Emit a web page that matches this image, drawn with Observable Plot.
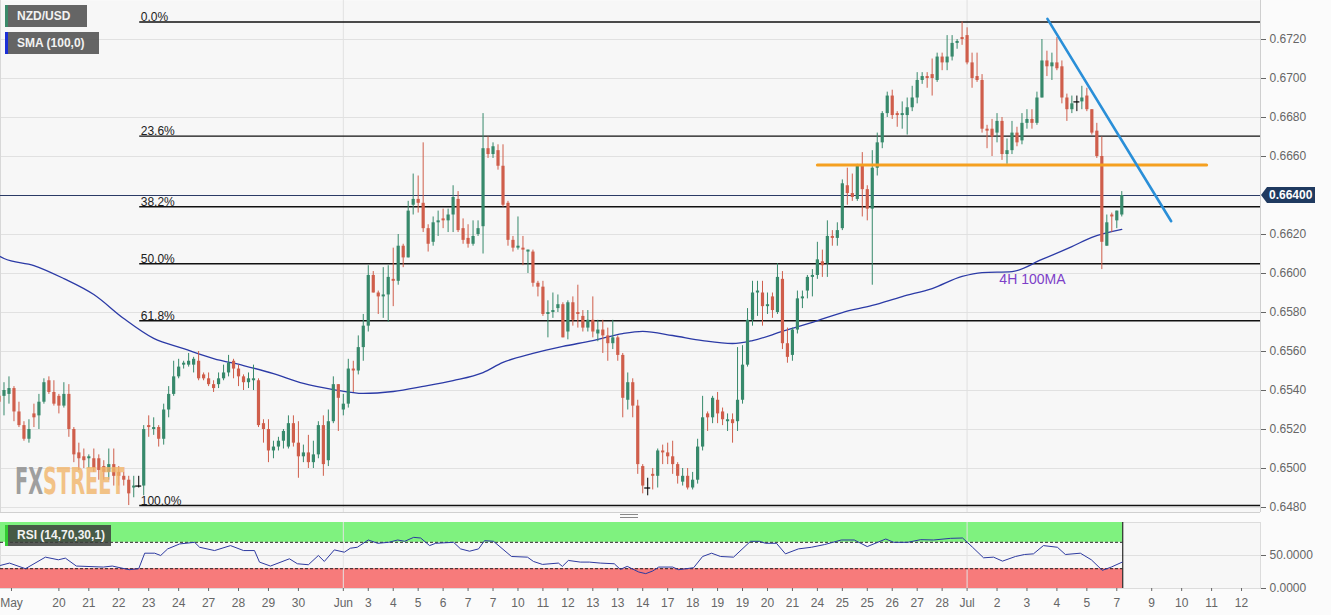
<!DOCTYPE html>
<html>
<head>
<meta charset="utf-8">
<script src="https://cdn.jsdelivr.net/npm/d3@7"></script>
<script src="https://cdn.jsdelivr.net/npm/@observablehq/plot@0.6"></script>
<style>
  body { margin: 0; background: #ffffff; font-family: "Liberation Sans", Arial, sans-serif; }
  #wrap { position: relative; width: 1331px; height: 615px; overflow: hidden; background: #fbfbfb; }
  #main, #rsi { position: absolute; left: 0; }
  #main { top: 0; }
  #rsi { top: 513px; }
  .tag { position: absolute; left: 5px; height: 22px; line-height: 22px; padding: 0 9px 0 9px;
         color: #f2f2f2; font-weight: bold; font-size: 12px; background: rgba(88,88,88,0.92);
         border-left: 3px solid; white-space: nowrap; }
  #fxs { position: absolute; left: 15px; top: 460px; font-family: "Liberation Sans Narrow", "DejaVu Sans Condensed", sans-serif;
         font-weight: bold; font-size: 37px; opacity: 0.8; pointer-events: none; white-space: nowrap;
         transform: scaleX(0.58); transform-origin: 0 0; }
  #handle { position: absolute; left: 620px; top: 514px; width: 18px; height: 2px; border-top: 1px solid #888; border-bottom: 1px solid #888; }
  #sep { position: absolute; left: 0; top: 512px; width: 1260px; height: 0; border-top: 1px solid #d0d0d0; }
</style>
</head>
<body>
<div id="wrap">
  <div id="main"></div>
  <div id="rsi"></div>
  <div id="sep"></div>
  <div id="handle"></div>
  <div class="tag" style="top:5px;border-color:#3b8a6a;width:61px;">NZD/USD</div>
  <div class="tag" style="top:32px;border-color:#1c2fd6;width:73px;">SMA (100,0)</div>
  <div class="tag" style="top:525px;border-color:#33cc33;background:rgba(60,64,60,0.85);height:21px;line-height:21px;padding:0 6px 0 9px;">RSI (14,70,30,1)</div>
  <div id="fxs"><span style="color:#8a8a8a">FX</span><span style="color:#f2b56b">STREET</span></div>
</div>
<script>
// ---------------- DATA ----------------
// 4H candles, bar index starts at -1 (first candle half hidden at the left edge)
const startIdx = -1;
const opens = [
  0.6537,0.6537,0.6538,0.6541,0.6529,0.6522,0.6515,0.6528,0.6527,0.6534,
  0.6545,0.6539,0.6537,0.6532,0.6538,0.6520,0.6508,0.6506,0.6505,0.6505,
  0.6505,0.6501,0.6498,0.6502,0.6498,0.6496,0.6494,0.6490,0.6491,0.6491,
  0.6522,0.6520,0.6521,0.6515,0.6530,0.6538,0.6547,0.6553,0.6553,0.6553,
  0.6555,0.6548,0.6546,0.6543,0.6543,0.6546,0.6549,0.6555,0.6551,0.6547,
  0.6544,0.6545,0.6545,0.6523,0.6520,0.6509,0.6511,0.6514,0.6511,0.6523,
  0.6513,0.6506,0.6508,0.6503,0.6507,0.6522,0.6504,0.6524,0.6543,0.6530,
  0.6533,0.6551,0.6550,0.6562,0.6573,0.6599,0.6590,0.6588,0.6589,0.6597,
  0.6596,0.6614,0.6608,0.6635,0.6638,0.6636,0.6623,0.6616,0.6626,0.6628,
  0.6627,0.6630,0.6638,0.6623,0.6618,0.6615,0.6620,0.6624,0.6664,0.6661,
  0.6663,0.6655,0.6636,0.6617,0.6613,0.6613,0.6611,0.6611,0.6595,0.6593,
  0.6579,0.6580,0.6582,0.6584,0.6570,0.6585,0.6580,0.6578,0.6572,0.6576,
  0.6569,0.6571,0.6568,0.6564,0.6567,0.6558,0.6535,0.6544,0.6532,0.6501,
  0.6490,0.6497,0.6496,0.6509,0.6508,0.6506,0.6502,0.6493,0.6496,0.6490,
  0.6494,0.6511,0.6528,0.6526,0.6535,0.6529,0.6524,0.6525,0.6524,0.6535,
  0.6553,0.6576,0.6590,0.6590,0.6583,0.6588,0.6580,0.6597,0.6564,0.6558,
  0.6571,0.6587,0.6591,0.6598,0.6599,0.6606,0.6605,0.6619,0.6618,0.6623,
  0.6645,0.6641,0.6638,0.6655,0.6643,0.6633,0.6654,0.6667,0.6682,0.6691,
  0.6682,0.6681,0.6681,0.6685,0.6690,0.6699,0.6701,0.6702,0.6699,0.6711,
  0.6708,0.6711,0.6718,0.6721,0.6722,0.6708,0.6701,0.6699,0.6674,0.6674,
  0.6672,0.6678,0.6661,0.6663,0.6672,0.6668,0.6677,0.6679,0.6677,0.6690,
  0.6709,0.6706,0.6708,0.6706,0.6690,0.6684,0.6688,0.6688,0.6691,0.6684,
  0.6673,0.6660,0.6614,0.6630,0.6627,0.6630
];
const highs = [
  0.6539,0.6544,0.6547,0.6542,0.6534,0.6524,0.6525,0.6533,0.6538,0.6546,
  0.6547,0.6545,0.6538,0.6544,0.6543,0.6521,0.6513,0.6510,0.6507,0.6510,
  0.6507,0.6504,0.6510,0.6510,0.6501,0.6498,0.6496,0.6496,0.6496,0.6522,
  0.6527,0.6526,0.6522,0.6533,0.6542,0.6555,0.6556,0.6555,0.6559,0.6557,
  0.6560,0.6549,0.6549,0.6545,0.6549,0.6553,0.6558,0.6556,0.6553,0.6548,
  0.6549,0.6553,0.6546,0.6525,0.6525,0.6514,0.6516,0.6520,0.6527,0.6527,
  0.6524,0.6512,0.6517,0.6514,0.6524,0.6527,0.6530,0.6547,0.6543,0.6538,
  0.6556,0.6555,0.6568,0.6579,0.6604,0.6601,0.6591,0.6603,0.6604,0.6613,
  0.6620,0.6615,0.6637,0.6651,0.6650,0.6667,0.6625,0.6629,0.6632,0.6633,
  0.6633,0.6645,0.6642,0.6628,0.6625,0.6627,0.6627,0.6682,0.6670,0.6667,
  0.6666,0.6666,0.6637,0.6619,0.6629,0.6619,0.6612,0.6612,0.6596,0.6596,
  0.6586,0.6590,0.6589,0.6585,0.6586,0.6588,0.6594,0.6581,0.6581,0.6588,
  0.6576,0.6576,0.6572,0.6576,0.6568,0.6559,0.6549,0.6546,0.6535,0.6502,
  0.6495,0.6500,0.6510,0.6512,0.6513,0.6514,0.6503,0.6500,0.6500,0.6498,
  0.6515,0.6537,0.6529,0.6537,0.6539,0.6531,0.6528,0.6528,0.6562,0.6563,
  0.6582,0.6596,0.6596,0.6596,0.6590,0.6590,0.6605,0.6601,0.6572,0.6572,
  0.6591,0.6591,0.6599,0.6602,0.6616,0.6612,0.6627,0.6622,0.6626,0.6648,
  0.6654,0.6651,0.6656,0.6662,0.6645,0.6663,0.6672,0.6683,0.6693,0.6694,
  0.6683,0.6688,0.6690,0.6696,0.6703,0.6703,0.6703,0.6710,0.6713,0.6713,
  0.6722,0.6722,0.6720,0.6729,0.6726,0.6713,0.6713,0.6702,0.6676,0.6679,
  0.6682,0.6680,0.6669,0.6678,0.6675,0.6682,0.6684,0.6684,0.6693,0.6720,
  0.6714,0.6713,0.6721,0.6709,0.6692,0.6691,0.6691,0.6696,0.6695,0.6684,
  0.6677,0.6670,0.6630,0.6631,0.6632,0.6642
];
const lows = [
  0.6532,0.6527,0.6533,0.6524,0.6521,0.6514,0.6513,0.6521,0.6520,0.6533,
  0.6538,0.6532,0.6528,0.6531,0.6516,0.6503,0.6499,0.6500,0.6500,0.6498,
  0.6494,0.6494,0.6494,0.6491,0.6491,0.6491,0.6481,0.6485,0.6490,0.6486,
  0.6516,0.6517,0.6511,0.6512,0.6526,0.6537,0.6546,0.6551,0.6552,0.6549,
  0.6545,0.6545,0.6542,0.6539,0.6541,0.6545,0.6547,0.6546,0.6542,0.6540,
  0.6541,0.6540,0.6521,0.6513,0.6503,0.6505,0.6509,0.6510,0.6510,0.6511,
  0.6495,0.6503,0.6500,0.6500,0.6505,0.6496,0.6501,0.6523,0.6519,0.6527,
  0.6531,0.6539,0.6548,0.6555,0.6570,0.6590,0.6579,0.6577,0.6575,0.6583,
  0.6594,0.6603,0.6608,0.6630,0.6631,0.6621,0.6611,0.6614,0.6619,0.6623,
  0.6621,0.6621,0.6621,0.6615,0.6613,0.6614,0.6619,0.6610,0.6659,0.6659,
  0.6653,0.6634,0.6614,0.6611,0.6612,0.6604,0.6600,0.6593,0.6588,0.6578,
  0.6567,0.6577,0.6580,0.6567,0.6566,0.6573,0.6572,0.6570,0.6570,0.6567,
  0.6565,0.6559,0.6555,0.6561,0.6555,0.6526,0.6530,0.6526,0.6497,0.6487,
  0.6486,0.6489,0.6490,0.6502,0.6502,0.6497,0.6492,0.6491,0.6489,0.6489,
  0.6492,0.6509,0.6519,0.6523,0.6523,0.6522,0.6519,0.6513,0.6519,0.6533,
  0.6552,0.6573,0.6578,0.6573,0.6579,0.6577,0.6579,0.6561,0.6554,0.6555,
  0.6569,0.6582,0.6587,0.6588,0.6597,0.6598,0.6598,0.6614,0.6614,0.6622,
  0.6635,0.6637,0.6637,0.6629,0.6627,0.6594,0.6650,0.6664,0.6680,0.6679,
  0.6675,0.6674,0.6671,0.6683,0.6687,0.6697,0.6695,0.6691,0.6698,0.6704,
  0.6704,0.6709,0.6715,0.6717,0.6707,0.6695,0.6698,0.6672,0.6664,0.6660,
  0.6667,0.6658,0.6656,0.6661,0.6665,0.6666,0.6674,0.6674,0.6676,0.6690,
  0.6701,0.6699,0.6704,0.6687,0.6678,0.6682,0.6683,0.6684,0.6683,0.6671,
  0.6659,0.6602,0.6614,0.6621,0.6623,0.6629
];
const closes = [
  0.6534,0.6540,0.6541,0.6529,0.6522,0.6515,0.6520,0.6526,0.6534,0.6544,
  0.6539,0.6533,0.6532,0.6538,0.6520,0.6507,0.6505,0.6504,0.6506,0.6500,
  0.6499,0.6498,0.6502,0.6496,0.6496,0.6494,0.6487,0.6491,0.6491,0.6520,
  0.6521,0.6521,0.6515,0.6530,0.6538,0.6547,0.6552,0.6554,0.6555,0.6556,
  0.6546,0.6546,0.6543,0.6541,0.6546,0.6549,0.6554,0.6551,0.6547,0.6544,
  0.6546,0.6546,0.6522,0.6520,0.6509,0.6511,0.6514,0.6519,0.6523,0.6513,
  0.6506,0.6508,0.6503,0.6507,0.6522,0.6502,0.6524,0.6543,0.6536,0.6533,
  0.6551,0.6550,0.6562,0.6573,0.6599,0.6590,0.6588,0.6589,0.6598,0.6596,
  0.6614,0.6608,0.6632,0.6638,0.6636,0.6623,0.6615,0.6626,0.6627,0.6627,
  0.6630,0.6639,0.6622,0.6617,0.6615,0.6619,0.6623,0.6664,0.6661,0.6665,
  0.6655,0.6635,0.6617,0.6613,0.6614,0.6612,0.6612,0.6595,0.6593,0.6579,
  0.6580,0.6581,0.6584,0.6567,0.6585,0.6576,0.6579,0.6572,0.6576,0.6570,
  0.6571,0.6568,0.6564,0.6567,0.6558,0.6536,0.6544,0.6532,0.6502,0.6491,
  0.6490,0.6496,0.6509,0.6508,0.6506,0.6502,0.6496,0.6496,0.6490,0.6494,
  0.6511,0.6526,0.6526,0.6536,0.6528,0.6525,0.6525,0.6523,0.6535,0.6553,
  0.6576,0.6590,0.6591,0.6583,0.6584,0.6581,0.6598,0.6564,0.6557,0.6571,
  0.6587,0.6588,0.6598,0.6599,0.6607,0.6604,0.6619,0.6618,0.6622,0.6646,
  0.6641,0.6639,0.6655,0.6643,0.6633,0.6654,0.6667,0.6682,0.6691,0.6681,
  0.6681,0.6682,0.6685,0.6690,0.6699,0.6701,0.6700,0.6700,0.6711,0.6708,
  0.6711,0.6718,0.6719,0.6720,0.6708,0.6700,0.6699,0.6674,0.6673,0.6670,
  0.6678,0.6661,0.6663,0.6672,0.6667,0.6677,0.6679,0.6677,0.6690,0.6709,
  0.6706,0.6708,0.6705,0.6690,0.6684,0.6687,0.6688,0.6690,0.6684,0.6672,
  0.6660,0.6616,0.6626,0.6629,0.6632,0.6640
];

// SMA(100) at sample bars
const smaIdx = [-1,0,6,12,18,24,30,36,42,48,54,60,66,72,78,84,90,96,100,106,112,118,124,128,134,140,146,150,156,162,168,174,180,186,192,196,202,208,214,218,224];
const smaVal = [0.6609,0.66077,0.66041,0.65974,0.65892,0.65769,0.65667,0.65615,0.65564,0.65528,0.65487,0.65436,0.65405,0.65385,0.65395,0.65421,0.65451,0.65492,0.65544,0.65590,0.65626,0.65656,0.65692,0.65703,0.65682,0.65656,0.65641,0.65656,0.65703,0.65749,0.65800,0.65836,0.65882,0.65923,0.65985,0.66005,0.66010,0.66072,0.66138,0.66185,0.66226];

// RSI(14)
const rsiIdx = [-0.7,1.1,4.3,8.3,10.9,12.3,14.5,19.9,21.7,25.1,27.0,28.2,30.2,31.4,32.8,35.2,38.2,39.2,42.2,45.4,48.0,50.2,51.2,53.4,57.2,58.8,61.0,63.0,64.2,66.2,68.2,69.4,70.8,73.0,74.9,77.1,78.9,80.3,82.1,83.5,85.3,86.5,90.1,91.5,93.3,95.1,96.3,98.1,101.7,104.9,106.1,107.9,111.1,111.9,113.1,115.5,117.3,119.5,122.3,123.5,124.9,127.2,128.6,130.0,131.2,134.0,135.2,138.2,140.0,141.8,143.6,146.2,149.6,151.4,152.6,154.8,156.6,159.2,161.8,164.4,167.8,170.4,173.0,176.7,178.3,181.1,183.7,186.3,189.7,192.1,194.1,196.3,198.3,200.1,202.7,204.5,206.3,208.3,211.1,212.7,215.7,217.9,220.1,221.9,224.1];
const rsiVal = [35,38.5,30,47.5,43.5,46,34,32.5,34,28.5,30,53.5,53.5,50,60,67.5,70,62.5,57.5,65,57.5,57.5,40,34,45,37.5,36,50,41,58.5,55,61,62.5,73.5,68.5,70,73.5,71.5,77.5,76.5,65,68.5,70,60,56.5,60,72.5,71.5,48.5,47.5,41,36.5,38.5,33.5,42.5,40,40,38.5,37.5,29,33.5,25,22.5,26.5,32.5,32.5,28.5,31.5,48.5,53.5,48.5,47.5,71.5,71.5,68.5,68.5,52.5,60,62.5,66.5,73.5,73.5,63.5,75,70,70,74,73.5,76,76.5,62.5,46.5,47.5,41.5,48.5,51.5,52.5,65,62.5,51.5,53.5,43.5,27.5,32.5,40];

// X tick labels (bar index of each label) and their texts
const xTickIdx = [1.5,11,17,23,29,35,41,47,53,59,68,73,78,83,88,93,98,103,108,113,118,123,128,133,138,143,148,153,158,163,168,173,178,183,188,193,199,205,211,217,223,230,236,242,248];
const xTickLabels = ["May","20","21","22","23","24","27","28","29","30","Jun","3","4","5","6","7","7","10","11","12","13","13","14","17","18","19","19","20","21","24","25","25","26","27","28","Jul","2","3","4","5","7","9","10","11","12"];
const monthIdx = [68, 193];

// Y ticks
const yTicks = [0.6480,0.6500,0.6520,0.6540,0.6560,0.6580,0.6600,0.6620,0.6640,0.6660,0.6680,0.6700,0.6720];
const rsiTicks = [0, 50];

// Fibonacci retracement (swing low -> swing high)
const fibLow = 0.6481, fibHigh = 0.6729, fibStartIdx = 27.2;
const fibRatios = [0, 0.236, 0.382, 0.5, 0.618, 1];
const fibLabels = ["0.0%","23.6%","38.2%","50.0%","61.8%","100.0%"];

// Drawn annotations
const orangeLine = [{i: 163, p: 0.66557}, {i: 241, p: 0.66557}];
const blueTrend = [{i: 209.1, p: 0.67306}, {i: 233.9, p: 0.66268}];
const maLabel = {i: 206.1, p: 0.65969, text: "4H 100MA"};
const lastPrice = 0.6640;

// ---------------- CHART ----------------
const W = 1331, MR = 71;
const xDomain = [-0.7, 251.8];
const GREEN = "#37896b", RED = "#cf5e4b";
const FONT = '"Liberation Sans", Arial, sans-serif';

const bars = opens.map((o, k) => ({i: startIdx + k, o, h: highs[k], l: lows[k], c: closes[k]}));
const candleColor = d => d.c > d.o ? GREEN : d.c < d.o ? RED : "#000000";
const dojis = bars.filter(d => d.c === d.o);
const bodies = bars.filter(d => d.c !== d.o);
const sma = smaIdx.map((i, k) => ({i, p: smaVal[k]}));
const rsi = rsiIdx.map((i, k) => ({i, v: rsiVal[k]}));
const fib = fibRatios.map((r, k) => ({p: fibHigh - (fibHigh - fibLow) * r, label: fibLabels[k]}));
const lastBar = bars[bars.length - 1].i;
const labelOf = new Map(xTickIdx.map((t, k) => [t, xTickLabels[k]]));
// the current-price tag covers the axis label at that level
const yLabelTicks = yTicks.filter(t => Math.abs(t - lastPrice) > 1e-9);

const main = Plot.plot({
  width: W, height: 513,
  marginLeft: 0, marginRight: MR, marginTop: 0, marginBottom: 1,
  x: {domain: xDomain, axis: null},
  y: {domain: [0.647744, 0.674], axis: null},
  color: {type: "identity"},
  style: {background: "transparent", fontFamily: FONT, overflow: "visible"},
  marks: [
    Plot.frame({fill: "#f7f7f7", stroke: null}),
    Plot.gridY(yTicks, {stroke: "#e1e1e1", strokeOpacity: 1}),
    Plot.ruleX(monthIdx, {stroke: "#e1e1e1"}),
    Plot.ruleX([xDomain[1]], {stroke: "#cfcfcf"}),
    Plot.ruleX([xDomain[0]], {stroke: "#d8d8d8"}),
    Plot.axisY(yLabelTicks, {anchor: "right", label: null, tickFormat: d3.format(".4f"), tickSize: 5, tickPadding: 4, fontSize: 12, color: "#666"}),
    // fibonacci levels
    Plot.ruleY(fib, {y: "p", x1: fibStartIdx, x2: xDomain[1], stroke: "#111", strokeWidth: 1.4}),
    Plot.text(fib, {y: "p", x: fibStartIdx, text: "label", textAnchor: "start", lineAnchor: "bottom", dx: 1, dy: -1, fontSize: 12, fill: "#222"}),
    // current price line
    Plot.ruleY([lastPrice], {stroke: "#2b3b66", strokeWidth: 1.1}),
    // SMA 100
    Plot.line(sma, {x: "i", y: "p", stroke: "#2b3aa6", strokeWidth: 1.3, curve: "monotone-x"}),
    // candles
    Plot.ruleX(bars, {x: "i", y1: "l", y2: "h", stroke: candleColor, strokeWidth: 1}),
    Plot.ruleX(bodies, {x: "i", y1: "o", y2: "c", stroke: candleColor, strokeWidth: 3.2}),
    Plot.ruleY(dojis, {y: "c", x1: d => d.i - 0.6, x2: d => d.i + 0.6, stroke: "#000", strokeWidth: 1.2}),
    // annotations
    Plot.line(orangeLine, {x: "i", y: "p", stroke: "#f5a020", strokeWidth: 3}),
    Plot.line(blueTrend, {x: "i", y: "p", stroke: "#2a8fd8", strokeWidth: 2.6}),
    Plot.text([maLabel], {x: "i", y: "p", text: "text", fill: "#7d3fc8", fontSize: 14})
  ]
});
document.getElementById("main").appendChild(main);

// current price tag on the right axis
{
  const sy = main.scale("y");
  const yv = sy.apply(lastPrice);
  const x0 = W - MR + 1;
  const g = d3.select(main).append("g");
  g.append("path")
    .attr("d", `M${x0},${yv} L${x0 + 6},${yv - 8} L${x0 + 54},${yv - 8} L${x0 + 54},${yv + 8} L${x0 + 6},${yv + 8} Z`)
    .attr("fill", "#1f3a60");
  g.append("text").attr("x", x0 + 8).attr("y", yv).attr("dy", "0.35em")
    .attr("fill", "#ffffff").attr("font-weight", "bold").attr("font-size", 12)
    .attr("font-family", FONT).attr("text-anchor", "start").text(d3.format(".5f")(lastPrice));
}

const rsiChart = Plot.plot({
  width: W, height: 102,
  marginLeft: 0, marginRight: MR, marginTop: 9, marginBottom: 27,
  x: {domain: xDomain, label: null},
  y: {domain: [0, 100], axis: null, label: null},
  style: {background: "transparent", fontFamily: FONT, overflow: "visible"},
  marks: [
    Plot.frame({fill: "#f7f7f7", stroke: "#dcdcdc"}),
    Plot.rect([{lo: 70, hi: 100}], {x1: xDomain[0], x2: lastBar + 0.2, y1: "lo", y2: "hi", fill: "#7ff27f"}),
    Plot.rect([{lo: 0, hi: 30}], {x1: xDomain[0], x2: lastBar + 0.2, y1: "lo", y2: "hi", fill: "#f77b7b"}),
    Plot.gridY([50], {stroke: "#e0e0e0", strokeOpacity: 1}),
    Plot.ruleX(monthIdx, {stroke: "#e3e3e3"}),
    Plot.ruleY([30, 70], {x1: xDomain[0], x2: lastBar + 0.2, stroke: "#222", strokeDasharray: "3,2", strokeWidth: 1}),
    Plot.ruleX([lastBar + 0.2], {y1: 0, y2: 100, stroke: "#000", strokeWidth: 1}),
    Plot.line(rsi, {x: "i", y: "v", stroke: "#2d3aa0", strokeWidth: 1}),
    Plot.axisY(rsiTicks, {anchor: "right", label: null, tickFormat: d3.format(".4f"), tickSize: 5, tickPadding: 4, fontSize: 12, color: "#666"}),
    Plot.axisX(xTickIdx, {label: null, tickFormat: d => labelOf.get(d), tickSize: 3, tickPadding: 7, fontSize: 12, color: "#666"})
  ]
});
document.getElementById("rsi").appendChild(rsiChart);
</script>
</body>
</html>
